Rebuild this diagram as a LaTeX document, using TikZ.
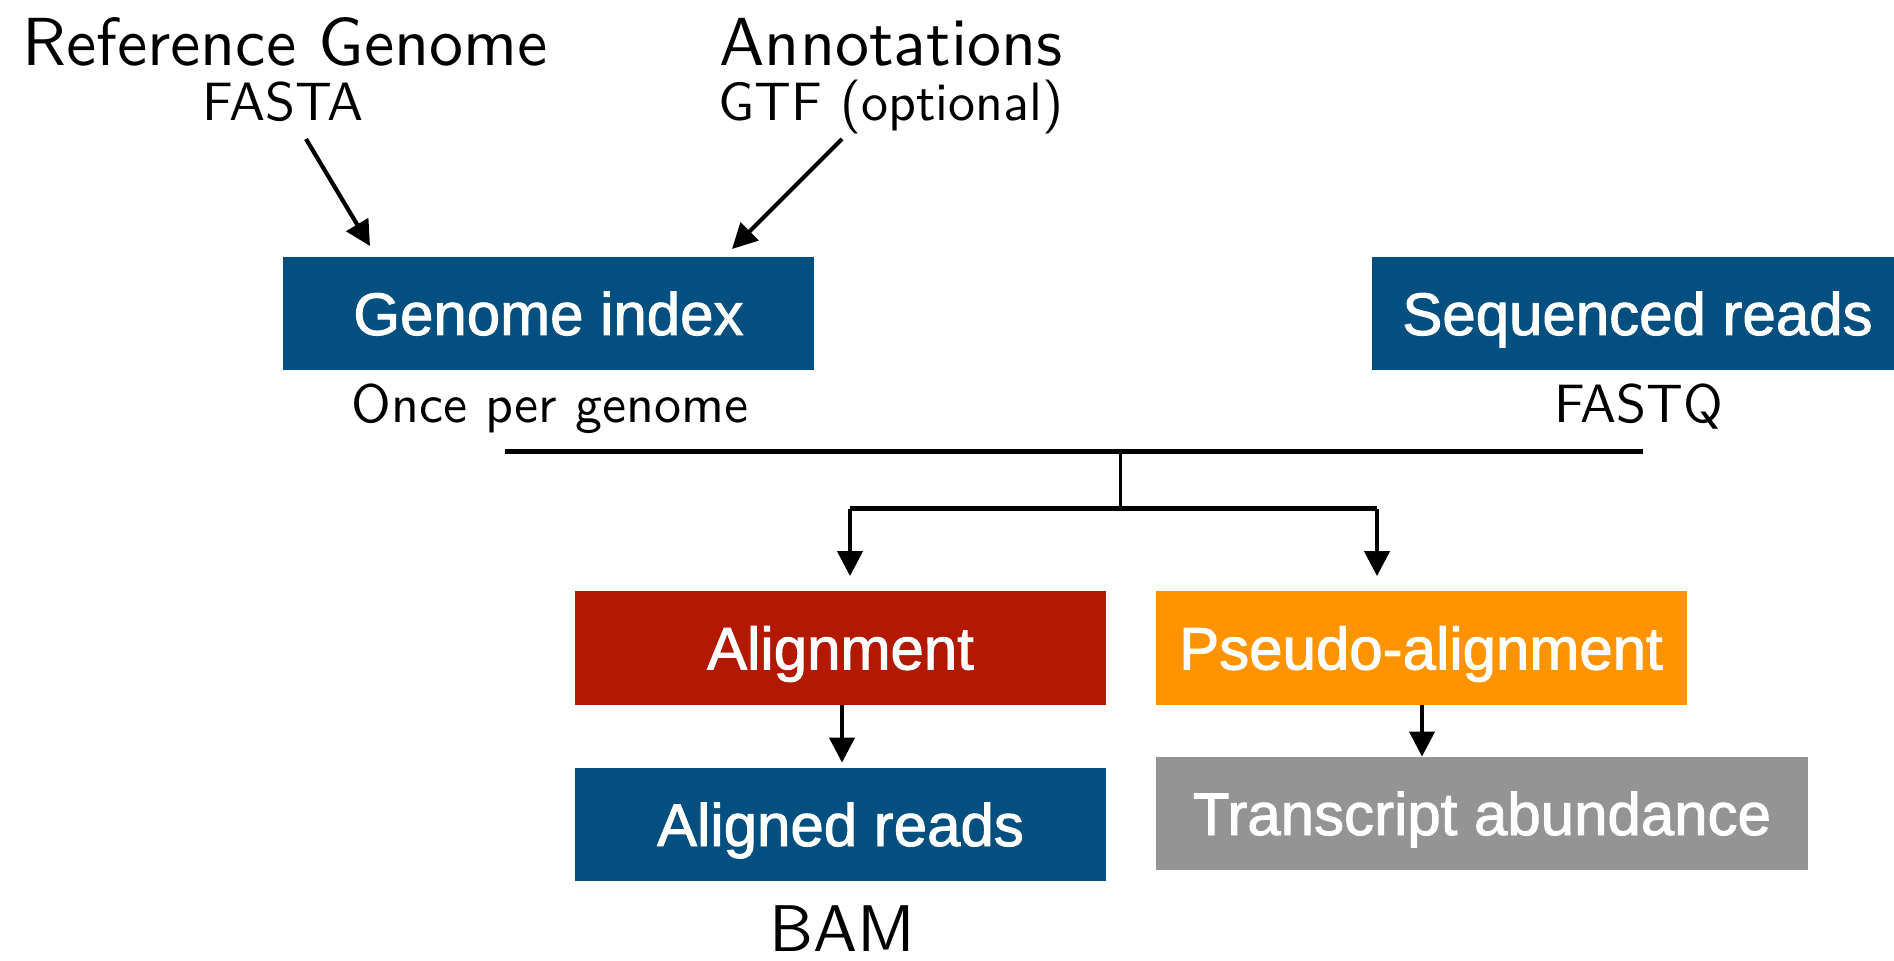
\documentclass[tikz,border=0pt]{standalone}
\usepackage{fontspec}
\newfontfamily\boxfont{Liberation Sans}[FakeBold=1.6]
\usetikzlibrary{arrows.meta}
\definecolor{seqblue}{HTML}{024F80}
\definecolor{alnred}{HTML}{B31800}
\definecolor{pseudoorange}{HTML}{FF9300}
\definecolor{quantgray}{HTML}{949494}
% sans label set in the 10pt design, scaled up
\newcommand{\biglabel}[2]{\scalebox{#1}{\sffamily\fontsize{10}{12}\selectfont #2}}
\begin{document}
\begin{tikzpicture}[x=0.5pt,y=-0.5pt,
  box/.style={fill=#1, text=white, inner sep=0pt, minimum height=56.5pt,
    minimum width=265.5pt, font=\boxfont\fontsize{30}{36}\selectfont,
    text height=21.5pt, text depth=0pt},
  lbl/.style={inner sep=0pt, anchor=base},
  flow/.style={line width=2.1pt, -{Triangle[length=12.5pt,width=12.5pt]}},
  bar/.style={line width=2.5pt}]
\useasboundingbox (0,0) rectangle (1894,961);
\clip (0,0) rectangle (1894,961);

% inputs
\node[lbl] (refg) at (285,66) {\biglabel{3.4}{Reference Genome}};
\node[lbl] (fasta) at (283,121) {\biglabel{2.7}{FASTA}};
\node[lbl] (annot) at (891,66) {\biglabel{3.4}{Annotations}};
\node[lbl] (gtf) at (891,121) {\biglabel{2.7}{GTF (optional)}};

% boxes
\node[box=seqblue] (gi) at (548.5,313.5) {Genome index};
\node[box=seqblue] (sr) at (1637.5,313.5) {Sequenced reads};
\node[lbl] (once) at (550,423) {\biglabel{2.7}{Once per genome}};
\node[lbl] (fastq) at (1639,423) {\biglabel{2.7}{FASTQ}};

\node[box=alnred] (aln) at (840.5,648) {Alignment};
\node[box=pseudoorange] (pse) at (1421,648) {Pseudo-alignment};
\node[box=seqblue] (ar) at (840.5,824.5) {Aligned reads};
\node[box=quantgray, minimum width=326pt] (ta) at (1482,813.5) {Transcript abundance};
\node[lbl] (bam) at (842,951) {\biglabel{3.3}{BAM}};

% arrows into the index
\coordinate (fastaend) at (306,139);
\coordinate (gtfend) at (842,139);
\draw[flow] (fastaend) -- (370,246);
\draw[flow] (gtfend) -- (732,249);

% joining bar and split
\coordinate (barL) at (505,452);
\coordinate (barR) at (1643,452);
\coordinate (stemTop) at (1120,452);
\coordinate (stemBot) at (1120,509);
\coordinate (splitL) at (850,509);
\coordinate (splitR) at (1377,509);
\draw[bar] (barL) -- (barR);
\draw[line width=1.5pt] (stemTop) -- (stemBot);
\draw[bar] (splitL) -- (splitR);
\draw[flow, shorten >=7.5pt] (splitL) -- (splitL |- aln.north);
\draw[flow, shorten >=7.5pt] (splitR) -- (splitR |- pse.north);
\draw[flow, shorten >=2.5pt] (aln.south -| 842,0) -- (ar.north -| 842,0);
\draw[flow] (pse.south -| 1422,0) -- (ta.north -| 1422,0);
\end{tikzpicture}
\end{document}
